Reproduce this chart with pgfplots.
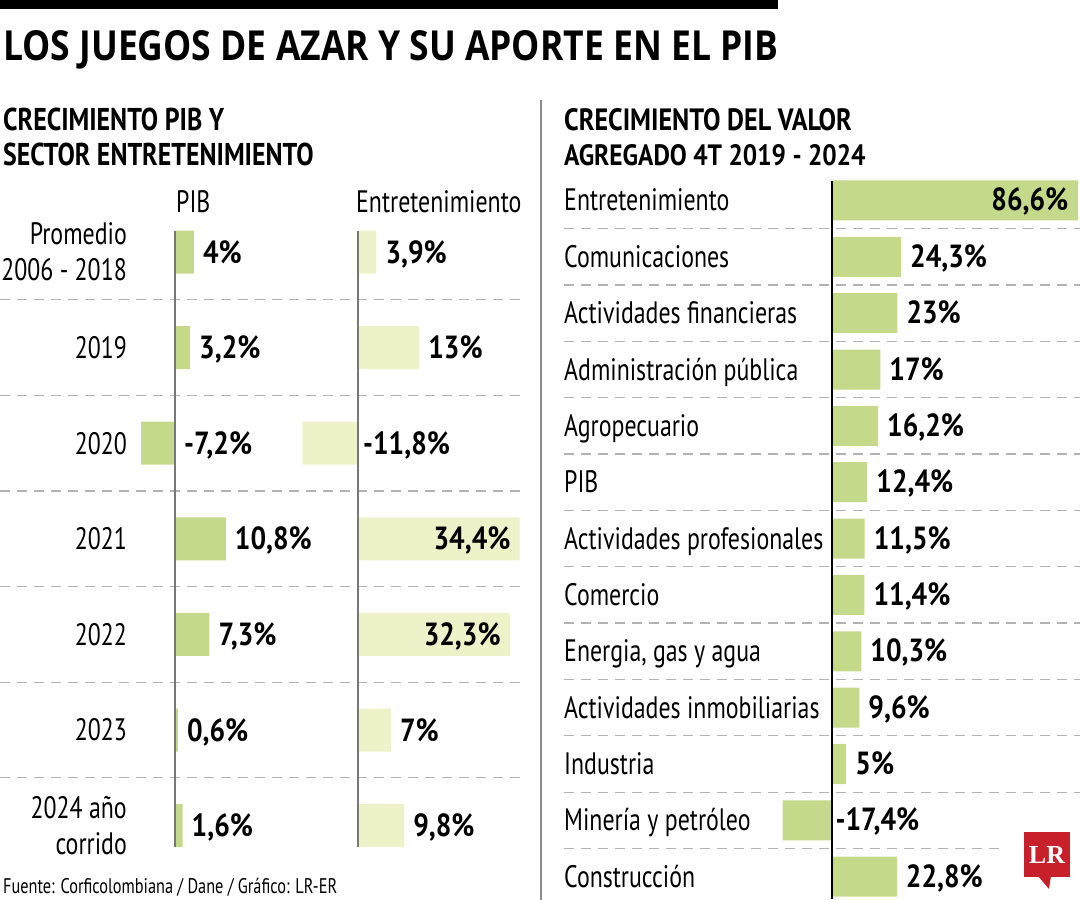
\documentclass[border=0pt]{standalone}
\usepackage{pgfplots}
\pgfplotsset{compat=1.18}
\usepackage{fontspec}
\setmainfont{PT Sans}
\newfontfamily\lblfont[FakeStretch=0.77]{PT Sans}
\newfontfamily\valfont[FakeStretch=0.86]{PT Sans}
\newfontfamily\ttlfont{Open Sans}
\newfontfamily\lrfont{Liberation Serif}
\definecolor{gdark}{RGB}{197,217,138}
\definecolor{glight}{RGB}{238,242,200}
\definecolor{axgray}{RGB}{120,120,120}
\definecolor{dashgray}{RGB}{178,178,178}
\definecolor{lrred}{RGB}{200,32,42}
\newcommand{\lbl}{\lblfont\fontsize{31bp}{36bp}\selectfont}
\newcommand{\val}{\valfont\bfseries\fontsize{32bp}{36bp}\selectfont}
\begin{document}
\begin{tikzpicture}[x=1bp,y=1bp]
\useasboundingbox (0,0) rectangle (1080,-900);
% top bar and titles
\fill[black] (0,0) rectangle (778,-8.5);
\node[anchor=base west, inner sep=0pt] at (3,-60) {\resizebox{775bp}{30bp}{\ttlfont\bfseries LOS JUEGOS DE AZAR Y SU APORTE EN EL PIB}};
\node[anchor=base west, inner sep=0pt] at (3,-130) {\resizebox{221bp}{22.5bp}{\lblfont\bfseries CRECIMIENTO PIB Y}};
\node[anchor=base west, inner sep=0pt] at (3,-165.7) {\resizebox{310.5bp}{22.5bp}{\lblfont\bfseries SECTOR ENTRETENIMIENTO}};
\node[anchor=base west, inner sep=0pt] at (564,-130) {\resizebox{287.6bp}{22bp}{\lblfont\bfseries CRECIMIENTO DEL VALOR}};
\node[anchor=base west, inner sep=0pt] at (564,-165) {\resizebox{301.4bp}{21bp}{\lblfont\bfseries AGREGADO 4T 2019 - 2024}};
\node[anchor=base west, inner sep=0pt] at (176,-212) {\lbl PIB};
\node[anchor=base west, inner sep=0pt] at (356,-212) {\lbl Entretenimiento};
% separator
\draw[axgray!85, line width=2bp] (541,-100) -- (541,-900);
% dashed separators
\foreach \i in {0,...,5}
  \draw[dashgray, line width=1.3bp, dash pattern=on 10bp off 7bp] (0,{-(252+95.6*(\i+0.5))}) -- (520,{-(252+95.6*(\i+0.5))});
\foreach \i in {0,...,10}
  \draw[dashgray, line width=1.3bp, dash pattern=on 10bp off 7bp] (564,{-(200.5+56.35*(\i+0.5))}) -- (1080,{-(200.5+56.35*(\i+0.5))});
\draw[dashgray, line width=1.3bp, dash pattern=on 10bp off 7bp] (564,{-(200.5+56.35*11.5)}) -- (1003,{-(200.5+56.35*11.5)});

% ---------- PIB ----------
\begin{axis}[at={(184.4bp,-538.8bp)}, anchor=center, scale only axis,
  width=94bp, height=669.2bp, xmin=-8, xmax=12, ymin=-0.5, ymax=6.5,
  y dir=reverse, enlargelimits=false, clip=false,
  hide x axis, axis y line*=left, y axis line style={draw=none},
  major tick length=0pt, ytick={0,...,6},
  yticklabels={{Promedio\\2006 - 2018},2019,2020,2021,2022,2023,{2024 año\\corrido}},
  yticklabel style={font=\lbl, anchor=east, inner sep=0pt, xshift=-10.4bp, align=right}]
\addplot[xbar, bar width=43bp, bar shift=0pt, fill=gdark, draw=none]
  coordinates {(4,0) (3.2,1) (-7.2,2) (10.8,3) (7.3,4) (0.6,5) (1.6,6)};
\draw[axgray, line width=1.5bp] (axis cs:0,-0.225) -- (axis cs:0,6.225);
\addplot[draw=none, mark=none, nodes near coords={\pgfplotspointmeta\%}, point meta=explicit symbolic,
  every node near coord/.append style={font=\val, anchor=base west, inner sep=0pt, xshift=9bp, yshift=-11bp}]
  table[meta=lab] {
x y lab
4 0 4
3.2 1 3,2
0 2 -7,2
10.8 3 10,8
7.3 4 7,3
0.6 5 0,6
1.6 6 1,6
};
\end{axis}

% ---------- Entretenimiento ----------
\begin{axis}[at={(410.875bp,-538.8bp)}, anchor=center, scale only axis,
  width=223.25bp, height=669.2bp, xmin=-12.5, xmax=35, ymin=-0.5, ymax=6.5,
  y dir=reverse, enlargelimits=false, clip=false, hide axis]
\addplot[xbar, bar width=43bp, bar shift=0pt, fill=glight, draw=none]
  coordinates {(3.9,0) (13,1) (-11.8,2) (34.4,3) (32.3,4) (7,5) (9.8,6)};
\draw[axgray, line width=1.5bp] (axis cs:0,-0.225) -- (axis cs:0,6.225);
\addplot[draw=none, mark=none, nodes near coords={\pgfplotspointmeta\%}, point meta=explicit symbolic,
  every node near coord/.append style={font=\val, anchor=base west, inner sep=0pt, xshift=9bp, yshift=-11bp}]
  table[meta=lab] {
x y lab
3.9 0 3,9
13 1 13
7 5 7
9.8 6 9,8
};
\addplot[draw=none, mark=none, nodes near coords={\pgfplotspointmeta\%}, point meta=explicit symbolic,
  every node near coord/.append style={font=\val, anchor=base west, inner sep=0pt, xshift=5bp, yshift=-11bp}]
  table[meta=lab] {
x y lab
0 2 -11,8
};
\addplot[draw=none, mark=none, nodes near coords={\pgfplotspointmeta\%}, point meta=explicit symbolic,
  every node near coord/.append style={font=\val, anchor=base east, inner sep=0pt, xshift=-9bp, yshift=-11bp}]
  table[meta=lab] {
x y lab
34.4 3 34,4
32.3 4 32,3
};
\end{axis}

% ---------- Valor agregado ----------
\begin{axis}[at={(929.98bp,-538.575bp)}, anchor=center, scale only axis,
  width=298.2bp, height=732.55bp, xmin=-18, xmax=87, ymin=-0.5, ymax=12.5,
  y dir=reverse, enlargelimits=false, clip=false,
  hide x axis, axis y line*=left, y axis line style={draw=none},
  major tick length=0pt, ytick={0,...,12},
  yticklabels={Entretenimiento,Comunicaciones,Actividades financieras,Administración pública,Agropecuario,PIB,Actividades profesionales,Comercio,{Energia, gas y agua},Actividades inmobiliarias,Industria,Minería y petróleo,Construcción},
  yticklabel style={font=\lbl, anchor=base west, inner sep=0pt, xshift=-216.88bp, yshift=-10.5bp}]
\addplot[xbar, bar width=40bp, bar shift=0pt, fill=gdark, draw=none]
  coordinates {(86.6,0) (24.3,1) (23,2) (17,3) (16.2,4) (12.4,5) (11.5,6) (11.4,7) (10.3,8) (9.6,9) (5,10) (-17.4,11) (22.8,12)};
\draw[black, line width=1.3bp] (axis cs:0,-0.35) -- (axis cs:0,12.4);
\addplot[draw=none, mark=none, nodes near coords={\pgfplotspointmeta\%}, point meta=explicit symbolic,
  every node near coord/.append style={font=\val, anchor=base west, inner sep=0pt, xshift=9bp, yshift=-10.5bp}]
  table[meta=lab] {
x y lab
24.3 1 24,3
23 2 23
17 3 17
16.2 4 16,2
12.4 5 12,4
11.5 6 11,5
11.4 7 11,4
10.3 8 10,3
9.6 9 9,6
5 10 5
22.8 12 22,8
};
\addplot[draw=none, mark=none, nodes near coords={\pgfplotspointmeta\%}, point meta=explicit symbolic,
  every node near coord/.append style={font=\val, anchor=base west, inner sep=0pt, xshift=3.5bp, yshift=-10.5bp}]
  table[meta=lab] {
x y lab
0 11 -17,4
};
\addplot[draw=none, mark=none, nodes near coords={\pgfplotspointmeta\%}, point meta=explicit symbolic,
  every node near coord/.append style={font=\val, anchor=base east, inner sep=0pt, xshift=-9.5bp, yshift=-10.5bp}]
  table[meta=lab] {
x y lab
86.6 0 86,6
};
\end{axis}

% footer
\node[anchor=base west, inner sep=0pt] at (3,-893) {\resizebox{334bp}{!}{\lblfont\fontsize{22bp}{22bp}\selectfont Fuente: Corficolombiana / Dane / Gráfico: LR-ER}};
% logo
\fill[lrred] (1024,-832) rectangle (1070,-877);
\fill[lrred] (1038,-876) -- (1051,-876) -- (1049,-889) -- cycle;
\node[white, inner sep=0pt] at (1047,-855) {\lrfont\bfseries\fontsize{26bp}{26bp}\selectfont LR};
\end{tikzpicture}
\end{document}
